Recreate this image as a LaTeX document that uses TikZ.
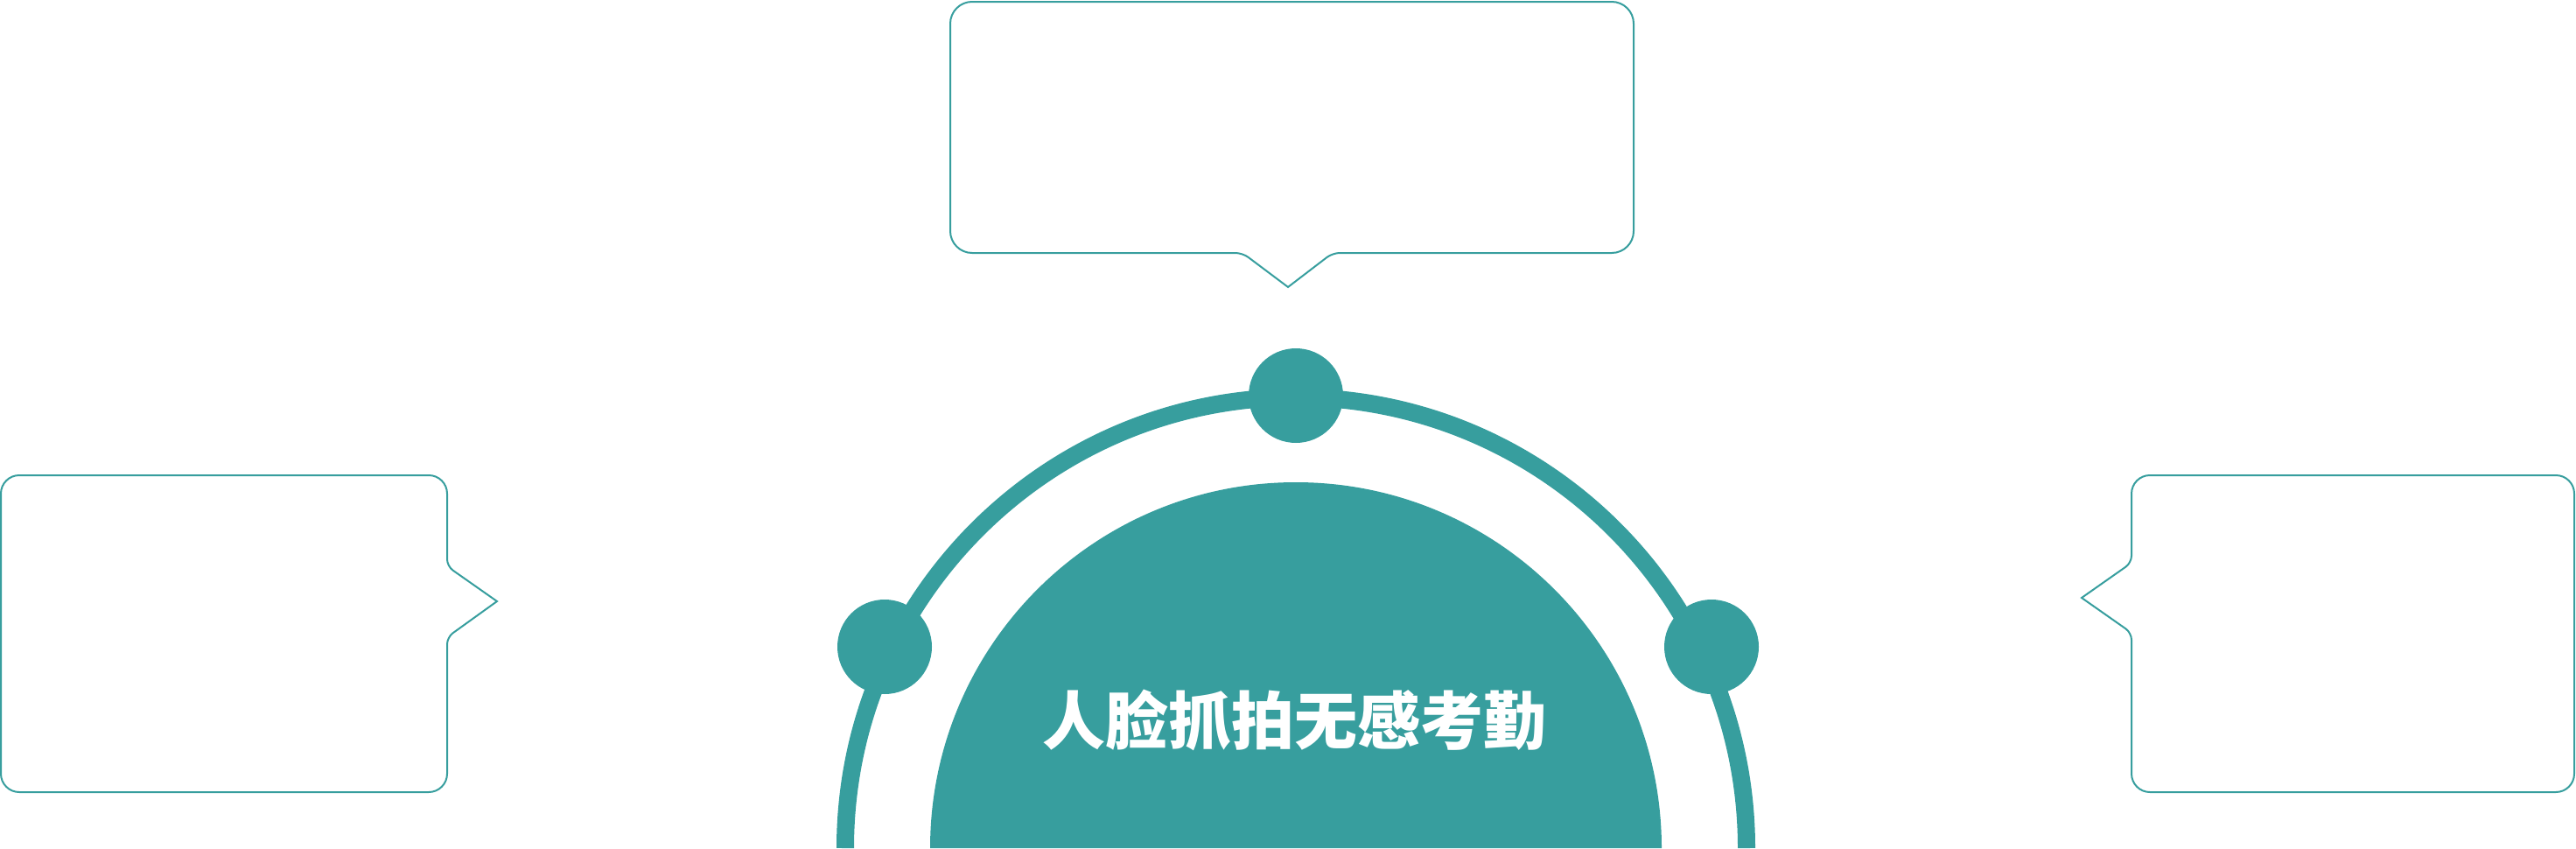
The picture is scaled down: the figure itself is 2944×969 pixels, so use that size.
\documentclass[tikz,border=0pt]{standalone}
\usepackage{fontspec}
\newfontfamily\cjk{Noto Sans CJK SC}
\definecolor{teal1}{RGB}{55,158,158}
\begin{document}
\begin{tikzpicture}[x=1pt,y=-1pt,
  callout/.style={draw=teal1,line width=2pt,fill=white},
  dot/.style={circle,fill=teal1,inner sep=0pt,minimum size=108pt},
  title/.style={text=white,font=\cjk\bfseries\fontsize{72}{72}\selectfont,inner sep=0pt}]
\useasboundingbox (0,0) rectangle (2944,969);
% top callout
\draw[callout,rounded corners=25pt] (1400,2) -- (1867,2) -- (1867,289)
  [rounded corners=8pt] -- (1523,289) [sharp corners] -- (1472,328)
  [rounded corners=8pt] -- (1420,289) [rounded corners=25pt] -- (1086,289) -- (1086,2) -- cycle;
% left callout
\draw[callout,rounded corners=21pt] (200,543) -- (511,543)
  [rounded corners=8pt] -- (511,647) [sharp corners] -- (568,687)
  [rounded corners=8pt] -- (511,728) [rounded corners=21pt] -- (511,905) -- (1,905) -- (1,543) -- cycle;
% right callout
\draw[callout,rounded corners=21pt] (2700,543) -- (2942,543) -- (2942,905) -- (2436,905)
  [rounded corners=8pt] -- (2436,723) [sharp corners] -- (2379,683)
  [rounded corners=8pt] -- (2436,643) [rounded corners=21pt] -- (2436,543) -- cycle;
% outer arc
\draw[teal1,line width=20pt] (966,969) arc[start angle=180,end angle=360,radius=515];
% inner half disk
\fill[teal1] (1063,969) arc[start angle=180,end angle=360,radius=418] -- cycle;
% dots
\node[dot] (dtop) at (1481,452) {};
\node[dot] (dleft) at (1011,739) {};
\node[dot] (dright) at (1956,739) {};
\node[title] (t) at (1479,823) {人脸抓拍无感考勤};
\end{tikzpicture}
\end{document}
